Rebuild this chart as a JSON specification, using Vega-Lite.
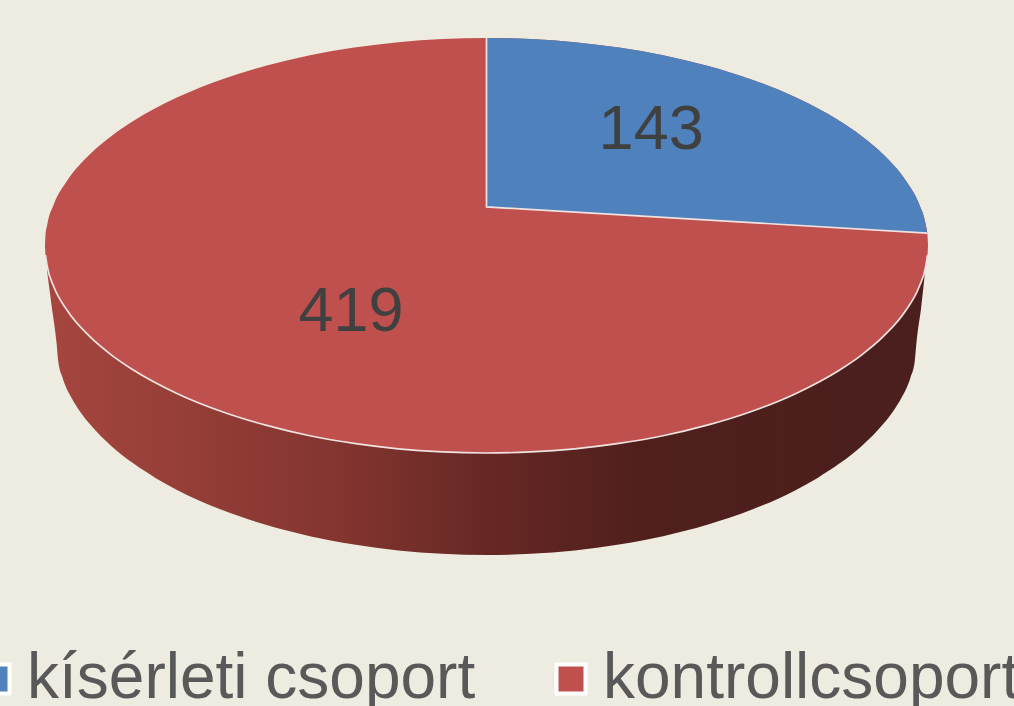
{"$schema":"https://vega.github.io/schema/vega-lite/v6.json","width":1014,"height":706,"padding":0,"autosize":{"type":"none"},"background":"#eeebe0","config":{"view":{"stroke":null}},
"datasets":{
"side":[{"u":-0.995,"top":0,"low":-0.128},{"u":-0.985,"top":0,"low":-0.29},{"u":-0.974,"top":0,"low":-0.465},{"u":-0.97,"top":0,"low":-0.558},{"u":-0.96,"top":0,"low":-0.638},{"u":-0.94,"top":0,"low":-0.734},{"u":-0.92,"top":0,"low":-0.802},{"u":-0.9,"top":0,"low":-0.857},{"u":-0.85,"top":0,"low":-0.966},{"u":-0.8,"top":0,"low":-1.05},{"u":-0.75,"top":0,"low":-1.12},{"u":-0.7,"top":0,"low":-1.179},{"u":-0.6,"top":0,"low":-1.274},{"u":-0.5,"top":0,"low":-1.346},{"u":-0.4,"top":0,"low":-1.401},{"u":-0.3,"top":0,"low":-1.441},{"u":-0.2,"top":0,"low":-1.47},{"u":-0.1,"top":0,"low":-1.486},{"u":0,"top":0,"low":-1.492},{"u":0.1,"top":0,"low":-1.486},{"u":0.2,"top":0,"low":-1.47},{"u":0.3,"top":0,"low":-1.441},{"u":0.4,"top":0,"low":-1.401},{"u":0.5,"top":0,"low":-1.346},{"u":0.6,"top":0,"low":-1.274},{"u":0.7,"top":0,"low":-1.179},{"u":0.75,"top":0,"low":-1.12},{"u":0.8,"top":0,"low":-1.05},{"u":0.85,"top":0,"low":-0.966},{"u":0.9,"top":0,"low":-0.857},{"u":0.92,"top":0,"low":-0.802},{"u":0.94,"top":0,"low":-0.734},{"u":0.96,"top":0,"low":-0.638},{"u":0.97,"top":0,"low":-0.558},{"u":0.974,"top":0,"low":-0.465},{"u":0.985,"top":0,"low":-0.29},{"u":0.993,"top":0,"low":-0.13}],
"disc":[{"group":"kontrollcsoport","u":-1,"top":0,"low":0},{"group":"kontrollcsoport","u":-0.999,"top":0.045,"low":-0.045},{"group":"kontrollcsoport","u":-0.995,"top":0.1,"low":-0.1},{"group":"kontrollcsoport","u":-0.98,"top":0.199,"low":-0.199},{"group":"kontrollcsoport","u":-0.95,"top":0.312,"low":-0.312},{"group":"kontrollcsoport","u":-0.9,"top":0.436,"low":-0.436},{"group":"kontrollcsoport","u":-0.85,"top":0.527,"low":-0.527},{"group":"kontrollcsoport","u":-0.8,"top":0.6,"low":-0.6},{"group":"kontrollcsoport","u":-0.7,"top":0.714,"low":-0.714},{"group":"kontrollcsoport","u":-0.6,"top":0.8,"low":-0.8},{"group":"kontrollcsoport","u":-0.5,"top":0.866,"low":-0.866},{"group":"kontrollcsoport","u":-0.4,"top":0.917,"low":-0.917},{"group":"kontrollcsoport","u":-0.3,"top":0.954,"low":-0.954},{"group":"kontrollcsoport","u":-0.2,"top":0.98,"low":-0.98},{"group":"kontrollcsoport","u":-0.1,"top":0.995,"low":-0.995},{"group":"kontrollcsoport","u":0,"top":1,"low":-1},{"group":"kontrollcsoport","u":0.1,"top":0.995,"low":-0.995},{"group":"kontrollcsoport","u":0.2,"top":0.98,"low":-0.98},{"group":"kontrollcsoport","u":0.3,"top":0.954,"low":-0.954},{"group":"kontrollcsoport","u":0.4,"top":0.917,"low":-0.917},{"group":"kontrollcsoport","u":0.5,"top":0.866,"low":-0.866},{"group":"kontrollcsoport","u":0.6,"top":0.8,"low":-0.8},{"group":"kontrollcsoport","u":0.7,"top":0.714,"low":-0.714},{"group":"kontrollcsoport","u":0.8,"top":0.6,"low":-0.6},{"group":"kontrollcsoport","u":0.85,"top":0.527,"low":-0.527},{"group":"kontrollcsoport","u":0.9,"top":0.436,"low":-0.436},{"group":"kontrollcsoport","u":0.95,"top":0.312,"low":-0.312},{"group":"kontrollcsoport","u":0.98,"top":0.199,"low":-0.199},{"group":"kontrollcsoport","u":0.995,"top":0.1,"low":-0.1},{"group":"kontrollcsoport","u":0.999,"top":0.045,"low":-0.045},{"group":"kontrollcsoport","u":1,"top":0,"low":0}],
"wedge":[{"group":"kísérleti csoport","u":0,"top":1,"low":0.186},{"group":"kísérleti csoport","u":0.1,"top":0.995,"low":0.173},{"group":"kísérleti csoport","u":0.2,"top":0.98,"low":0.161},{"group":"kísérleti csoport","u":0.3,"top":0.954,"low":0.148},{"group":"kísérleti csoport","u":0.4,"top":0.917,"low":0.136},{"group":"kísérleti csoport","u":0.5,"top":0.866,"low":0.123},{"group":"kísérleti csoport","u":0.6,"top":0.8,"low":0.11},{"group":"kísérleti csoport","u":0.7,"top":0.714,"low":0.098},{"group":"kísérleti csoport","u":0.8,"top":0.6,"low":0.085},{"group":"kísérleti csoport","u":0.85,"top":0.527,"low":0.079},{"group":"kísérleti csoport","u":0.9,"top":0.436,"low":0.073},{"group":"kísérleti csoport","u":0.95,"top":0.312,"low":0.066},{"group":"kísérleti csoport","u":0.98,"top":0.199,"low":0.063},{"group":"kísérleti csoport","u":0.995,"top":0.1,"low":0.061},{"group":"kísérleti csoport","u":0.998,"top":0.063,"low":0.06}],
"seam":[{"step":1,"u":0,"v":1},{"step":2,"u":0,"v":0.186},{"step":3,"u":0.998,"v":0.06}],
"slices":[{"group":"kísérleti csoport","value":143,"u":0.373,"v":0.566},{"group":"kontrollcsoport","value":419,"u":-0.307,"v":-0.311}]
},
"layer":[
{"data":{"name":"side"},"mark":{"type":"area","interpolate":"monotone","color":{"gradient":"linear","x1":0,"y1":0,"x2":1,"y2":0,"stops":[{"offset":0,"color":"#a5463f"},{"offset":0.33,"color":"#84352f"},{"offset":0.5,"color":"#672825"},{"offset":0.68,"color":"#501f1c"},{"offset":1,"color":"#4a1f1e"}]}},
"encoding":{"x":{"field":"u","type":"quantitative","scale":{"domain":[-1.1019,1.1948],"nice":false,"zero":false},"axis":null},"y":{"field":"top","type":"quantitative","scale":{"domain":[-2.2193,1.1831],"nice":false,"zero":false},"axis":null},"y2":{"field":"low"}}},
{"data":{"name":"disc"},"mark":{"type":"area","interpolate":"monotone"},
"encoding":{"x":{"field":"u","type":"quantitative","axis":null},"y":{"field":"top","type":"quantitative","axis":null},"y2":{"field":"low"},"color":{"field":"group","type":"nominal","scale":{"domain":["kísérleti csoport","kontrollcsoport"],"range":["#4f81bd","#c0504d"]},"legend":{"orient":"none","legendX":-37,"legendY":647,"direction":"horizontal","columns":2,"title":null,"padding":0,"columnPadding":63,"symbolType":"square","symbolSize":841,"symbolStrokeColor":"white","symbolStrokeWidth":4,"symbolOpacity":1,"labelFontSize":64,"labelFont":"Liberation Sans","labelColor":"#595959","labelOffset":0,"labelLimit":0}}}},
{"data":{"name":"wedge"},"mark":{"type":"area","interpolate":"monotone"},
"encoding":{"x":{"field":"u","type":"quantitative","axis":null},"y":{"field":"top","type":"quantitative","axis":null},"y2":{"field":"low"},"color":{"field":"group","type":"nominal"}}},
{"data":{"name":"disc"},"transform":[{"filter":"abs(datum.u) <= 0.999"}],"mark":{"type":"line","interpolate":"monotone","stroke":"#efe3e0","strokeWidth":1.7},
"encoding":{"x":{"field":"u","type":"quantitative","axis":null},"y":{"field":"low","type":"quantitative","axis":null}}},
{"data":{"name":"seam"},"mark":{"type":"line","stroke":"#efe3e0","strokeWidth":1.7},
"encoding":{"x":{"field":"u","type":"quantitative","axis":null},"y":{"field":"v","type":"quantitative","axis":null},"order":{"field":"step","type":"ordinal"}}},
{"data":{"name":"slices"},"mark":{"type":"text","font":"Liberation Sans","fontSize":63,"color":"#404040","baseline":"middle","align":"center","dy":2},
"encoding":{"x":{"field":"u","type":"quantitative","axis":null},"y":{"field":"v","type":"quantitative","axis":null},"text":{"field":"value","type":"quantitative"}}}
]}
